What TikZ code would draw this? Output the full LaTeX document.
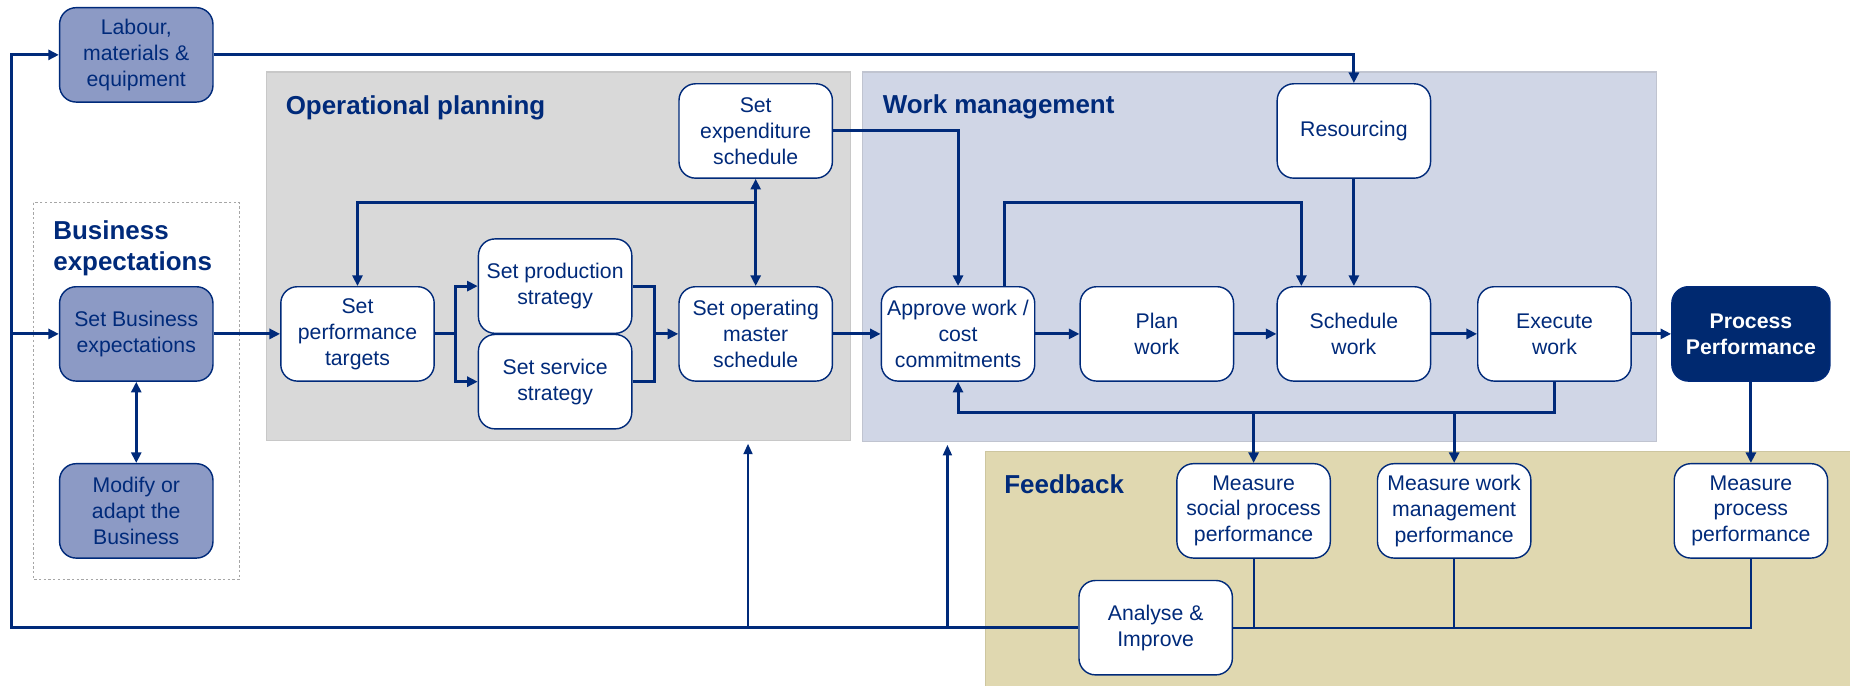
\documentclass[tikz,border=0pt]{standalone}
\usepackage{fontspec}
\setmainfont{Liberation Sans}
\usetikzlibrary{arrows.meta,backgrounds}
\definecolor{navy}{RGB}{0,42,122}
\definecolor{busfill}{RGB}{140,154,197}
\definecolor{ppfill}{RGB}{0,41,112}
\definecolor{opgrey}{RGB}{217,217,217}
\definecolor{opline}{RGB}{200,200,200}
\definecolor{wmfill}{RGB}{208,214,230}
\definecolor{wmline}{RGB}{192,196,208}
\definecolor{fbfill}{RGB}{224,216,176}
\definecolor{fbline}{RGB}{205,198,160}
\tikzset{
  box/.style={draw=navy, line width=1.2pt, fill=white, rounded corners=14pt,
    minimum width=130pt, minimum height=80pt, inner sep=2pt, align=center,
    text=navy, font=\fontsize{18}{22}\selectfont},
  busbox/.style={box, fill=busfill},
  ppbox/.style={box, fill=ppfill, minimum width=134pt, text=white,
    font=\fontsize{18}{22}\selectfont\bfseries},
  flow/.style={draw=navy, line width=2.6pt, -{Triangle[length=9pt,width=8.5pt]}},
  dflow/.style={draw=navy, line width=2.2pt, {Triangle[length=9pt,width=8.5pt]}-{Triangle[length=9pt,width=8.5pt]}},
  upflow/.style={draw=navy, line width=2pt, -{Triangle[length=9pt,width=7.5pt]}},
  plain/.style={draw=navy, line width=2.6pt},
  thinline/.style={draw=navy, line width=1.6pt},
  ttl/.style={anchor=base west, text=navy, font=\fontsize{22}{26}\selectfont\bfseries, inner sep=0pt}
}
\begin{document}
\begin{tikzpicture}[x=1pt,y=-1pt]
\useasboundingbox (0,0) rectangle (1568,581);
% background panels
\fill[opgrey, draw=opline, line width=1pt] (226,61) rectangle (721,373);
\fill[wmfill, draw=wmline, line width=1pt] (731,61) rectangle (1404,374);
\fill[fbfill, draw=fbline, line width=1pt] (835,383) rectangle (1570,583);
\draw[gray!70, line width=0.8pt, dash pattern=on 2pt off 2pt] (28,172) rectangle (203,491);
% titles
\node[ttl] (t1) at (242,97) {Operational planning};
\node[ttl] (t2) at (748,96) {Work management};
\node[ttl] (t3) at (45,203) {Business};
\node[ttl] (t4) at (45,229) {expectations};
\node[ttl] (t5) at (851,418) {Feedback};
% nodes
\node[busbox] (lab) at (115.5,46.5) {Labour,\\materials \&\\equipment};
\node[busbox] (sbe) at (115.5,283) {Set Business\\expectations};
\node[busbox] (mod) at (115.5,433) {Modify or\\adapt the\\Business};
\node[box] (spt) at (303,283) {Set\\performance\\targets};
\node[box] (sps) at (470.5,242.5) {Set production\\strategy};
\node[box] (sss) at (470.5,323.5) {Set service\\strategy};
\node[box] (som) at (640.5,283) {Set operating\\master\\schedule};
\node[box] (ses) at (640.5,111) {Set\\expenditure\\schedule};
\node[box] (apr) at (812,283) {Approve work /\\cost\\commitments};
\node[box] (plw) at (980.5,283) {Plan\\work};
\node[box] (shw) at (1147.5,283) {Schedule\\work};
\node[box] (exw) at (1317.5,283) {Execute\\work};
\node[ppbox] (ppf) at (1484,283) {Process\\Performance};
\node[box] (res) at (1147.5,111) {Resourcing};
\node[box] (msp) at (1062.5,433) {Measure\\social process\\performance};
\node[box] (mwm) at (1232.5,433) {Measure work\\management\\performance};
\node[box] (mpp) at (1484,433) {Measure\\process\\performance};
\node[box] (ana) at (979.5,532) {Analyse \&\\Improve};
% helper coordinates
\coordinate (lx) at (9.5,0);
\coordinate (sp) at (386,283);
\coordinate (mg) at (555,283);
\coordinate (jn) at (640.5,172);
\coordinate (ak) at (1103,172);
\coordinate (fbl) at (812,350);
\coordinate (b1) at (634,532);
\coordinate (u1) at (634,376);
\coordinate (b2) at (803,532);
\coordinate (u2) at (803,377);
% connectors
\draw[flow] (ana.west) -- (ana.west -| lx) -- (lx |- lab.west) -- (lab.west);
\draw[flow] (lx |- sbe.west) -- (sbe.west);
\draw[upflow] (b1) -- (u1);
\draw[upflow] (b2) -- (u2);
\draw[flow] (lab.east) -| (res.north);
\draw[flow] (res.south) -- (shw.north);
\draw[flow] (sbe.east) -- (spt.west);
\draw[dflow] (sbe.south) -- (mod.north);
\draw[plain] (spt.east) -- (sp);
\draw[flow] (sp) |- (sps.west);
\draw[flow] (sp) |- (sss.west);
\draw[plain] (sps.east) -| (mg);
\draw[plain] (sss.east) -| (mg);
\draw[flow] (mg) -- (som.west);
\draw[dflow] (som.north) -- (ses.south);
\draw[flow] (jn) -| (spt.north);
\draw[flow] (ses.east) -| (apr.north);
\draw[flow] (som.east) -- (apr.west);
\draw[flow] ([xshift=39pt]apr.north) |- (ak) -- (ak |- shw.north);
\draw[flow] (apr.east) -- (plw.west);
\draw[flow] (plw.east) -- (shw.west);
\draw[flow] (shw.east) -- (exw.west);
\draw[flow] (exw.east) -- (ppf.west);
\draw[flow] (exw.south) |- (fbl) -- (apr.south);
\draw[flow] (msp.north |- fbl) -- (msp.north);
\draw[flow] (mwm.north |- fbl) -- (mwm.north);
\draw[flow] (ppf.south) -- (mpp.north);
\draw[thinline] (mpp.south) |- (ana.east);
\draw[thinline] (msp.south) -- (msp.south |- ana.east);
\draw[thinline] (mwm.south) -- (mwm.south |- ana.east);
\end{tikzpicture}
\end{document}
